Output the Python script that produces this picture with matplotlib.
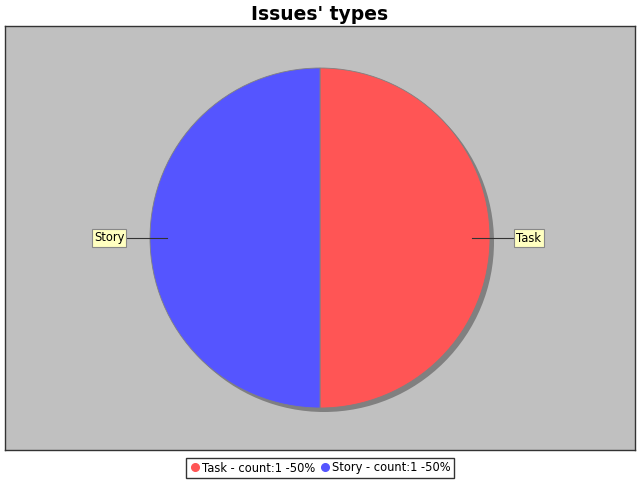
import matplotlib
matplotlib.use("Agg")
import matplotlib.pyplot as plt
from matplotlib.patches import Circle
from matplotlib.lines import Line2D

categories = ["Task", "Story"]
counts = [1, 1]
colors = ["#FF5555", "#5555FF"]

W, H = 640, 480
fig = plt.figure(figsize=(6.4, 4.8), dpi=100)
fig.patch.set_facecolor("white")

# plot area in pixel coordinates
x0, x1, ytop, ybot = 5, 635, 26, 450
ax = fig.add_axes([x0 / W, (H - ybot) / H, (x1 - x0) / W, (ybot - ytop) / H])
ax.set_facecolor("#C0C0C0")

cx, cy, r = 320, H - 238, 170
ax.add_patch(Circle((cx + 4, cy - 4), r, facecolor="#808080", edgecolor="none", zorder=1))
wedges, _ = ax.pie(counts, colors=colors, startangle=90, counterclock=False,
                   center=(cx, cy), radius=r, frame=True,
                   wedgeprops=dict(edgecolor="#808080", linewidth=0.6, zorder=2))
for w in wedges:
    w.set_zorder(2)
ax.set_xlim(x0, x1)
ax.set_ylim(H - ybot, H - ytop)
ax.set_aspect("auto")
ax.set_xticks([])
ax.set_yticks([])
for s in ax.spines.values():
    s.set_color("#333333")
    s.set_linewidth(1)

total = sum(counts)
# labels with link lines
label_pos = {"Task": (529, 238, 472), "Story": (109, 238, 167)}
for cat in categories:
    lx, ly, ex = label_pos[cat]
    ly = H - ly
    edge_x = lx - 15 if cat == "Task" else lx + 17
    ax.plot([ex, edge_x], [ly, ly], color="#333333", lw=0.8, zorder=3)
    ax.text(lx, ly, cat, ha="center", va="center", fontsize=8.3, zorder=4,
            bbox=dict(boxstyle="square,pad=0.2", facecolor="#FFFFC0", edgecolor="#888888", lw=0.8))

fig.text(0.5, 1 - 14 / H, "Issues' types", ha="center", va="center", fontsize=13.5, fontweight="heavy")

handles = [Line2D([], [], marker="o", linestyle="none", markerfacecolor=c, markeredgecolor=c, markersize=5.5)
           for c in colors]
labels = [f"{c} - count:{n} -{round(100 * n / total)}%" for c, n in zip(categories, counts)]
leg = fig.legend(handles, labels, loc="center", bbox_to_anchor=(320 / W, 1 - 468 / H), ncol=2,
                 fontsize=8.3, frameon=True, fancybox=False, handletextpad=0.15, columnspacing=0.4,
                 handlelength=0.9, borderpad=0.3, borderaxespad=0)
leg.get_frame().set_edgecolor("black")
leg.get_frame().set_linewidth(1)

fig.savefig("out.png", dpi=100)
